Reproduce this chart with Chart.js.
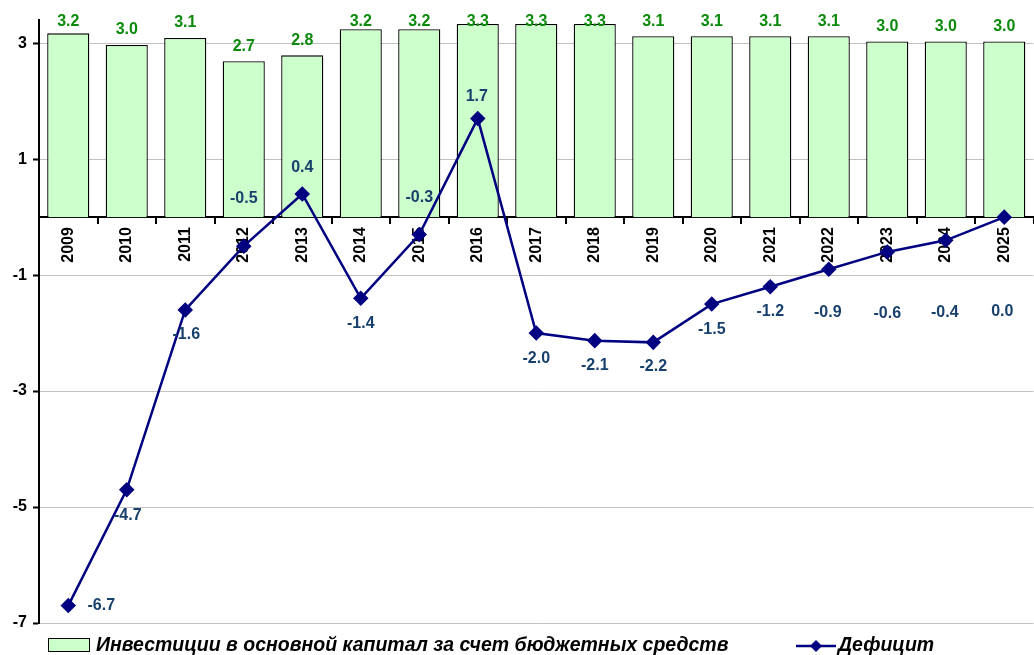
<!DOCTYPE html>
<html>
<head>
<meta charset="utf-8">
<script src="https://cdn.jsdelivr.net/npm/chart.js@4.4.1/dist/chart.umd.min.js"></script>
<style>
  html, body { margin: 0; padding: 0; background: #fff; overflow: hidden; }
  #wrap { position: relative; width: 1034px; height: 655px; overflow: hidden; }
  #chart { position: absolute; left: 0; top: 0; }
  .legend { position: absolute; top: 633px; font: italic bold 19.5px "Liberation Sans", Arial, sans-serif; color: #000; white-space: nowrap; }
  .legend .box { display: inline-block; width: 40px; height: 12px; background: #ccffcc; border: 1px solid #000; vertical-align: -1px; margin-right: 6px; }
  .legend canvas { vertical-align: -2px; margin-right: 2px; }
</style>
</head>
<body>
<div id="wrap">
  <canvas id="chart" width="1042" height="655"></canvas>
  <div class="legend" style="left:48px"><span class="box"></span>Инвестиции в основной капитал за счет бюджетных средств</div>
  <div class="legend" style="left:796px"><canvas id="lineKey" width="40" height="14"></canvas>Дефицит</div>
</div>
<script>
const YEARS      = ['2009','2010','2011','2012','2013','2014','2015','2016','2017','2018','2019','2020','2021','2022','2023','2024','2025'];
const INVEST     = [3.17, 2.97, 3.09, 2.69, 2.79, 3.24, 3.24, 3.33, 3.33, 3.33, 3.12, 3.12, 3.12, 3.12, 3.03, 3.03, 3.03];
const DEFICIT    = [-6.7, -4.7, -1.6, -0.5, 0.4, -1.4, -0.3, 1.7, -2.0, -2.13, -2.16, -1.5, -1.2, -0.9, -0.6, -0.4, 0.0];
const Y_TICKS    = [-7, -5, -3, -1, 1, 3];

const INVEST_NAME  = 'Инвестиции в основной капитал за счет бюджетных средств';
const DEFICIT_NAME = 'Дефицит';

// where each deficit label sits relative to its point (px)
const lblDx = [33, 1, 1, 0, 0, 0, 0, -1, 0, 0, 0, 0, 0, -1, 0, -1, -2];
const lblDy = [0, 26, 25, -48, -26, 25, -37, -22, 25, 25, 24, 25, 25, 43, 62, 72, 94];

const FONT = '"Liberation Sans", Arial, sans-serif';
const fmt1 = v => v.toFixed(1);

const labelPlugin = {
    id: 'valueLabels',
    afterDatasetsDraw(chart) {
        const ctx = chart.ctx;
        ctx.save();
        ctx.font = 'bold 16px ' + FONT;
        ctx.textAlign = 'center';
        ctx.textBaseline = 'middle';

        chart.getDatasetMeta(0).data.forEach((bar, i) => {
            ctx.fillStyle = '#0b8a0b';
            ctx.fillText(fmt1(INVEST[i]), bar.x, Math.max(bar.y - 15, 22));
        });
        chart.getDatasetMeta(1).data.forEach((pt, i) => {
            ctx.fillStyle = '#17406d';
            ctx.fillText(fmt1(DEFICIT[i]), pt.x + lblDx[i], pt.y + lblDy[i]);
        });
        ctx.restore();
    }
};

const chart = new Chart(document.getElementById('chart'), {
    data: {
        labels: YEARS,
        datasets: [
            {
                type: 'bar',
                label: INVEST_NAME,
                data: INVEST,
                backgroundColor: '#ccffcc',
                borderColor: '#000',
                borderWidth: 1.3,
                barPercentage: 0.72,
                categoryPercentage: 1,
                order: 2
            },
            {
                type: 'line',
                label: DEFICIT_NAME,
                data: DEFICIT,
                borderColor: '#000080',
                backgroundColor: '#000080',
                borderWidth: 2.5,
                pointStyle: 'rectRot',
                pointRadius: 6,
                pointHoverRadius: 6,
                tension: 0,
                order: 1
            }
        ]
    },
    options: {
        responsive: false,
        animation: false,
        layout: { padding: { top: 20, bottom: 32, left: 0, right: 0 } },
        plugins: { legend: { display: false }, tooltip: { enabled: false } },
        scales: {
            x: {
                position: { y: 0 },
                grid: { drawOnChartArea: false, offset: true, color: '#000', lineWidth: 2, tickLength: 6 },
                border: { color: '#000', width: 2 },
                ticks: { font: { family: FONT, size: 16, weight: 'bold' }, color: '#000', maxRotation: 90, minRotation: 90, padding: 4 }
            },
            y: {
                min: -7,
                max: 3.4,
                afterBuildTicks: s => { s.ticks = Y_TICKS.map(v => ({ value: v })); },
                afterFit: s => { s.width = 39; },
                grid: { color: '#c0c0c0', lineWidth: 1, tickColor: '#000', tickLength: 6, tickWidth: 2 },
                border: { color: '#000', width: 2 },
                ticks: { font: { family: FONT, size: 16, weight: 'bold' }, color: '#000', padding: 6 }
            }
        }
    },
    plugins: [labelPlugin]
});

// small line+diamond key for the legend
const k = document.getElementById('lineKey').getContext('2d');
k.strokeStyle = '#000080'; k.lineWidth = 2.5;
k.beginPath(); k.moveTo(0, 7); k.lineTo(40, 7); k.stroke();
k.fillStyle = '#000080';
k.beginPath(); k.moveTo(20, 1); k.lineTo(26, 7); k.lineTo(20, 13); k.lineTo(14, 7); k.closePath(); k.fill();
</script>
</body>
</html>
